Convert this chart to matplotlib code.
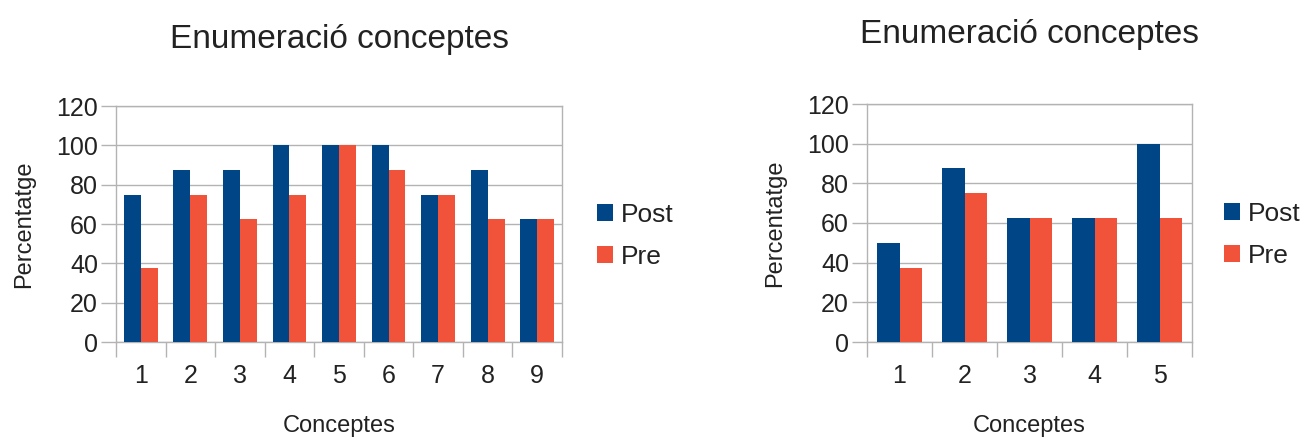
import numpy as np
import matplotlib.pyplot as plt

plt.rcParams['font.family'] = ['Liberation Sans', 'DejaVu Sans']

# Percentatge per concepte, abans (Pre) i després (Post)
conceptes_a = ['1', '2', '3', '4', '5', '6', '7', '8', '9']
post_a = [75, 87.5, 87.5, 100, 100, 100, 75, 87.5, 62.5]
pre_a = [37.5, 75, 62.5, 75, 100, 87.5, 75, 62.5, 62.5]

conceptes_b = ['1', '2', '3', '4', '5']
post_b = [50, 87.5, 62.5, 62.5, 100]
pre_b = [37.5, 75, 62.5, 62.5, 62.5]

BLUE = '#004586'
ORANGE = '#F0523A'
GRID = '#b3b3b3'
TEXT = '#222222'


def bar_chart(ax, cats, post, pre, width, title_pad):
    x = np.arange(len(cats))
    ax.bar(x - width / 2, post, width, color=BLUE, label='Post', zorder=3)
    ax.bar(x + width / 2, pre, width, color=ORANGE, label='Pre', zorder=3)
    ax.set_xlim(-0.5, len(cats) - 0.5)
    ax.set_ylim(0, 120)
    ax.set_yticks(range(0, 121, 20))
    ax.yaxis.grid(True, color=GRID, linewidth=1, zorder=0)
    # ticks at category borders, labels centred under bars
    ax.set_xticks(np.arange(len(cats) + 1) - 0.5)
    ax.set_xticklabels([])
    ax.set_xticks(x, minor=True)
    ax.set_xticklabels(cats, minor=True)
    ax.tick_params(axis='x', which='major', length=11, color=GRID, width=1)
    ax.tick_params(axis='x', which='minor', length=0, pad=16,
                   labelsize=18, labelcolor=TEXT)
    ax.tick_params(axis='y', length=11, color=GRID, width=1, pad=2,
                   labelsize=18, labelcolor=TEXT)
    for s in ax.spines.values():
        s.set_color(GRID)
        s.set_linewidth(1)
    ax.set_xlabel('Conceptes', fontsize=17, color=TEXT, labelpad=19)
    ax.set_ylabel('Percentatge', fontsize=17, color=TEXT, labelpad=15)
    ax.set_title('Enumeració conceptes', fontsize=24, color=TEXT, pad=title_pad)
    ax.legend(loc='center left', bbox_to_anchor=(1.025, 0.45), frameon=False,
              fontsize=19, handlelength=0.6, handleheight=0.6,
              handletextpad=0.3, labelspacing=0.7, labelcolor=TEXT)


fig = plt.figure(figsize=(13.16, 4.4), dpi=100)
ax1 = fig.add_axes([116 / 1316, 98 / 440, 446 / 1316, 236 / 440])
ax2 = fig.add_axes([867 / 1316, 98 / 440, 325 / 1316, 238 / 440])

bar_chart(ax1, conceptes_a, post_a, pre_a, 0.34, 42)
bar_chart(ax2, conceptes_b, post_b, pre_b, 0.34, 44)

fig.savefig('out.png', dpi=100, facecolor='white')
